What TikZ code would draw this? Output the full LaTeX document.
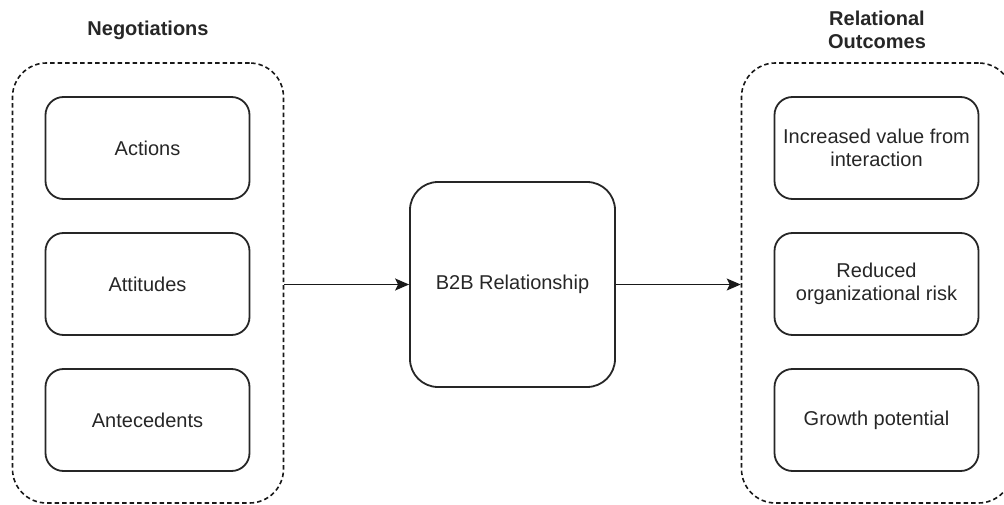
\documentclass[tikz,border=0pt]{standalone}
\usepackage{fontspec}
\setmainfont{Liberation Sans}
\usetikzlibrary{arrows.meta}
\begin{document}
\begin{tikzpicture}[x=1pt,y=-1pt,
  every node/.style={font=\fontsize{20}{23}\selectfont, text=black!85, align=center},
  container/.style={draw=black!90, line width=1.6pt, dash pattern=on 4.5pt off 3pt, rounded corners=34pt, minimum width=271pt, minimum height=440pt, inner sep=0pt},
  itembox/.style={draw=black!85, line width=1.8pt, rounded corners=18pt, minimum width=204pt, minimum height=102pt, inner sep=0pt},
  centerbox/.style={draw=black!85, line width=1.8pt, rounded corners=28pt, minimum width=205pt, minimum height=205pt, inner sep=0pt},
  title/.style={font=\bfseries\fontsize{20}{23.5}\selectfont},
  conn/.style={draw=black!90, line width=1.7pt, -{Stealth[length=14pt,width=12pt,inset=3pt]}}
]
\useasboundingbox (0,0) rectangle (1004,505);
\clip (0,0) rectangle (1004,505);

% left group
\node[container] (left) at (148,283) {};
\node[title] (negt) at (148,30) {Negotiations};
\node[itembox] (actions) at (147.5,148) {Actions};
\node[itembox] (attitudes) at (147.5,284) {Attitudes};
\node[itembox] (antecedents) at (147.5,420) {Antecedents};

% center
\node[centerbox] (b2b) at (512.5,284.5) {B2B Relationship};

% right group
\node[container] (right) at (877,283) {};
\node[title] (relt) at (877,30) {Relational\\Outcomes};
\node[itembox] (value) at (876.5,148) {Increased value from\\interaction};
\node[itembox] (risk) at (876.5,284) {Reduced\\organizational risk};
\node[itembox] (growth) at (876.5,420) {Growth potential};

% connectors
\draw[conn] (left.east |- b2b.west) -- (b2b.west);
\draw[conn] (b2b.east) -- (right.west |- b2b.east);
\end{tikzpicture}
\end{document}
